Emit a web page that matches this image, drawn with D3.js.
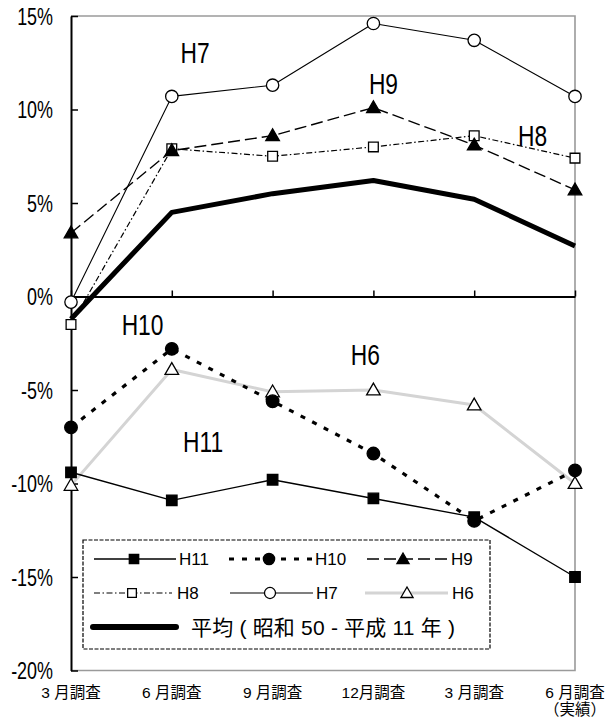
<!DOCTYPE html>
<html>
<head>
<meta charset="utf-8">
<script src="https://cdn.jsdelivr.net/npm/d3@7"></script>
<style>
  html, body { margin: 0; padding: 0; background: #fff; }
  svg { display: block; }
  text { font-family: "Liberation Sans", Arial, "Noto Sans CJK JP", sans-serif; fill: #000; }
  .cjk { font-family: "Liberation Sans", "Noto Sans CJK JP", sans-serif; }
</style>
</head>
<body>
<svg id="chart" width="607" height="722"></svg>
<script>
// Survey rounds along the x axis
const categories = ["3 月調査", "6 月調査", "9 月調査", "12月調査", "3 月調査", "6 月調査"];
const categorySub = ["", "", "", "", "", "（実績）"];

// Revision rates (%) per fiscal year
const h11 = [-9.4, -10.9, -9.8, -10.8, -11.8, -15.0];
const h10 = [-7.0, -2.8, -5.6, -8.4, -12.0, -9.3];
const h9  = [3.4, 7.8, 8.6, 10.1, 8.1, 5.7];
const h8  = [-1.5, 7.9, 7.5, 8.0, 8.6, 7.4];
const h7  = [-0.3, 10.7, 11.3, 14.6, 13.7, 10.7];
const h6  = [-10.1, -3.9, -5.1, -5.0, -5.8, -10.0];
const avg = [-1.2, 4.5, 5.5, 6.2, 5.2, 2.7];

// Value axis ticks
const yTicks = [15, 10, 5, 0, -5, -10, -15, -20];
const yTickLabels = ["15%", "10%", "5%", "0%", "-5%", "-10%", "-15%", "-20%"];

// Series names and the in-plot labels
const seriesNames = ["H11", "H10", "H9", "H8", "H7", "H6"];
const avgName = "平均 ( 昭和 50 - 平成 11 年 )";
const plotLabels = ["H7", "H9", "H8", "H10", "H6", "H11"];
const plotLabelAt = [[1.23, 13.05], [3.1, 11.4], [4.58, 8.6], [0.71, -1.47], [2.92, -3.1], [1.31, -7.73]];

const svg = d3.select("#chart");
const pL = 71, pR = 575, pT = 16, pB = 670.5;

const x = d3.scalePoint().domain(d3.range(categories.length)).range([pL, pR]);
const y = d3.scaleLinear().domain([-20, 15]).range([pB, pT]);

// Plot frame (grey top, right, bottom)
svg.append("path")
  .attr("d", `M${pL},${pT}H${pR}V${pB}H${pL}`)
  .attr("fill", "none").attr("stroke", "#9a9a9a").attr("stroke-width", 1.6);

// Value axis: inward ticks, condensed labels
const yAxis = svg.append("g").attr("transform", `translate(${pL},0)`)
  .call(d3.axisLeft(y).tickValues(yTicks).tickSize(-7).tickSizeOuter(0)
    .tickFormat((d, i) => yTickLabels[i]).tickPadding(18));
yAxis.select(".domain").attr("stroke", "#000").attr("stroke-width", 2);
yAxis.selectAll(".tick line").attr("stroke", "#000").attr("stroke-width", 1.5);
yAxis.selectAll(".tick text")
  .attr("font-size", 23).attr("font-family", "Liberation Sans, Arial, sans-serif")
  .attr("x", -18 / 0.78).attr("dy", "0.36em")
  .attr("transform", "scale(0.78,1)");

// Zero line with small upward ticks
const xAxis = svg.append("g").attr("transform", `translate(0,${y(0)})`)
  .call(d3.axisTop(x).tickSize(6).tickSizeOuter(0).tickFormat(""));
xAxis.select(".domain").attr("stroke", "#000").attr("stroke-width", 1.8);
xAxis.selectAll(".tick line").attr("stroke", "#000").attr("stroke-width", 1.5);

// Category labels below the plot
const cat = svg.append("g").attr("class", "cjk");
categories.forEach((c, i) => {
  cat.append("text").attr("class", "cjk")
    .attr("x", x(i)).attr("y", 692).attr("dy", "0.36em")
    .attr("text-anchor", "middle").attr("font-size", 15.5)
    .text(c);
  if (categorySub[i]) {
    cat.append("text").attr("class", "cjk")
      .attr("x", x(i)).attr("y", 709).attr("dy", "0.36em")
      .attr("text-anchor", "middle").attr("font-size", 15.5)
      .text(categorySub[i]);
  }
});

const line = d3.line().x((d, i) => x(i)).y(d => y(d));

const styles = {
  H11: { data: h11, stroke: "#000", width: 1.4, dash: null, symbol: d3.symbolSquare, size: 110, fill: "#000" },
  H10: { data: h10, stroke: "#000", width: 3.2, dash: "5,8", symbol: d3.symbolCircle, size: 125, fill: "#000" },
  H9:  { data: h9,  stroke: "#000", width: 1.4, dash: "12,5", symbol: d3.symbolTriangle, size: 80, fill: "#000" },
  H8:  { data: h8,  stroke: "#000", width: 1.2, dash: "6,2.5,1.5,2.5", symbol: d3.symbolSquare, size: 95, fill: "#fff" },
  H7:  { data: h7,  stroke: "#000", width: 1.1, dash: null, symbol: d3.symbolCircle, size: 120, fill: "#fff" },
  H6:  { data: h6,  stroke: "#d4d4d4", width: 3, dash: null, symbol: d3.symbolTriangle, size: 80, fill: "#fff" }
};

const drawOrder = ["H6", "H8", "H9", "H7", "H10", "H11"];
const plot = svg.append("g");

drawOrder.forEach(name => {
  const s = styles[name];
  plot.append("path").datum(s.data)
    .attr("d", line).attr("fill", "none")
    .attr("stroke", s.stroke).attr("stroke-width", s.width)
    .attr("stroke-dasharray", s.dash)
    .attr("stroke-linejoin", "round");
});

// Long-run average
plot.append("path").datum(avg)
  .attr("d", line).attr("fill", "none")
  .attr("stroke", "#000").attr("stroke-width", 5)
  .attr("stroke-linejoin", "round");

drawOrder.forEach(name => {
  const s = styles[name];
  plot.append("g").selectAll("path").data(s.data).join("path")
    .attr("transform", (d, i) => `translate(${x(i)},${y(d) + (s.symbol === d3.symbolTriangle ? 1 : 0)})`)
    .attr("d", d3.symbol(s.symbol, s.size))
    .attr("fill", s.fill).attr("stroke", "#000").attr("stroke-width", 1.3);
});

// Year labels inside the plot
plotLabels.forEach((t, i) => {
  const [ci, v] = plotLabelAt[i];
  svg.append("text")
    .attr("transform", `translate(${pL + ci * (pR - pL) / 5},${y(v)}) scale(0.76,1)`)
    .attr("text-anchor", "middle").attr("dy", "0.36em")
    .attr("font-size", 30).text(t);
});

// Legend
const lg = svg.append("g");
lg.append("rect").attr("x", 83).attr("y", 540).attr("width", 407).attr("height", 109)
  .attr("fill", "#fff").attr("stroke", "#000").attr("stroke-width", 1.2)
  .attr("stroke-dasharray", "4,1.5");

const legendItems = [
  { name: "H11", x1: 94,  x2: 176, mx: 134, tx: 179, ty: 559 },
  { name: "H10", x1: 229, x2: 313, mx: 269, tx: 315, ty: 559 },
  { name: "H9",  x1: 367, x2: 447, mx: 403, tx: 451, ty: 559 },
  { name: "H8",  x1: 94,  x2: 172, mx: 132, tx: 177, ty: 593 },
  { name: "H7",  x1: 230, x2: 313, mx: 270, tx: 316, ty: 593 },
  { name: "H6",  x1: 365, x2: 448, mx: 407, tx: 452, ty: 593 }
];
legendItems.forEach(it => {
  const s = styles[it.name];
  lg.append("line").attr("x1", it.x1).attr("x2", it.x2).attr("y1", it.ty).attr("y2", it.ty)
    .attr("stroke", s.stroke).attr("stroke-width", s.width).attr("stroke-dasharray", s.dash);
  lg.append("path")
    .attr("transform", `translate(${it.mx},${it.ty + (s.symbol === d3.symbolTriangle ? 1 : 0)})`)
    .attr("d", d3.symbol(s.symbol, s.size * 0.8))
    .attr("fill", s.fill).attr("stroke", "#000").attr("stroke-width", 1.3);
  lg.append("text").attr("x", it.tx).attr("y", it.ty).attr("dy", "0.36em")
    .attr("font-size", 17).text(it.name);
});
lg.append("line").attr("x1", 93).attr("x2", 176).attr("y1", 627).attr("y2", 627)
  .attr("stroke", "#000").attr("stroke-width", 6).attr("stroke-linecap", "round");
lg.append("text").attr("class", "cjk").attr("x", 191).attr("y", 627).attr("dy", "0.36em")
  .attr("font-size", 21).attr("textLength", 264).attr("lengthAdjust", "spacing")
  .text(avgName);
</script>
</body>
</html>
